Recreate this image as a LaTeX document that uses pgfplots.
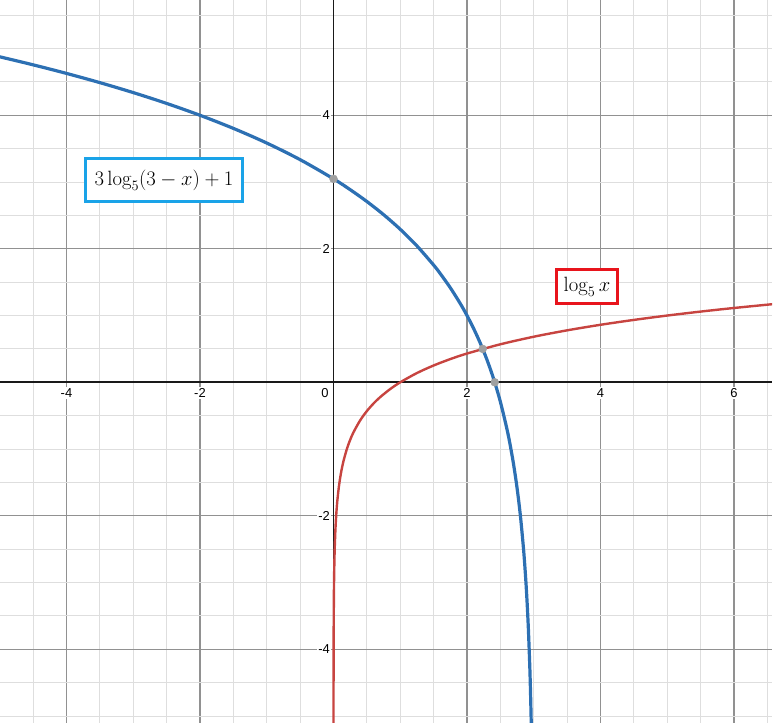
\documentclass[border=0pt]{standalone}
\usepackage{pgfplots}
\pgfplotsset{compat=1.18}
\usepackage{fontspec}
\newfontfamily\tickfont{Liberation Sans}
\definecolor{curveblue}{HTML}{2D70B3}
\definecolor{curvered}{HTML}{C74440}
\definecolor{boxblue}{HTML}{1AA3E8}
\definecolor{boxred}{HTML}{E8141C}
\definecolor{majgrid}{RGB}{145,145,145}
\definecolor{mingrid}{RGB}{222,222,222}
\definecolor{dotgrey}{RGB}{160,160,160}
\begin{document}
\begin{tikzpicture}
\useasboundingbox (0,0) rectangle (775bp,723bp);
\begin{axis}[
  at={(0,0)}, anchor=south west,
  width=772bp, height=723bp, scale only axis,
  xmin=-4.996, xmax=6.569, ymin=-5.104, ymax=5.727,
  axis lines=middle,
  axis line style={-, line width=1.8bp, color=black!90},
  xtick={-4,-2,2,4,6}, xticklabels={-4,-2,2,4,6},
  ytick={-4,-2,2,4}, yticklabels={-4,-2,2,4},
  minor xtick={-5,-4.5,...,6.5},
  minor ytick={-5,-4.5,...,5.5},
  grid=both,
  major grid style={line width=1.1bp, color=majgrid},
  minor grid style={line width=0.9bp, color=mingrid},
  major tick length=0pt, minor tick length=0pt,
  xticklabel style={font=\tickfont\fontsize{13}{15}\selectfont, fill=white, inner sep=1.5bp, anchor=center, yshift=-11bp},
  yticklabel style={font=\tickfont\fontsize{13}{15}\selectfont, fill=white, inner sep=1.5bp, anchor=east, xshift=-2bp},
  clip=true,
]
\addplot[smooth, line width=3.2bp, color=curveblue] coordinates {
(-5,4.8761) (-4.5,4.7558) (-4,4.6272) (-3.5,4.4891) (-3,4.3398) (-2.5,4.1777)
(-2,4) (-1.5,3.8036) (-1,3.5841) (-0.5,3.3352) (0,3.0478) (0.25,2.8856)
(0.5,2.7080) (0.75,2.5116) (1,2.2920) (1.25,2.0431) (1.5,1.7558) (1.6,1.6272)
(1.75,1.4159) (1.9,1.1777) (2,1) (2.1,0.8036) (2.2,0.5841) (2.3,0.3352)
(2.4,0.0478) (2.5,-0.2920) (2.6,-0.7080) (2.65,-0.9569) (2.7,-1.2442)
(2.75,-1.5841) (2.8,-2) (2.85,-2.5362) (2.88,-2.9522) (2.9,-3.2920)
(2.92,-3.7080) (2.94,-4.2442) (2.95,-4.5841) (2.96,-5) (2.965,-5.2489)
};
\addplot[smooth, line width=2.4bp, color=curvered] coordinates {
(0.00025,-5.1534) (0.0003,-5.0401) (0.0005,-4.7227) (0.001,-4.2920)
(0.002,-3.8614) (0.005,-3.2920) (0.007,-3.0830) (0.01,-2.8614)
(0.015,-2.6094) (0.02,-2.4307) (0.03,-2.1788) (0.04,-2) (0.05,-1.8614)
(0.06,-1.7481) (0.08,-1.5693) (0.1,-1.4307) (0.12,-1.3174) (0.15,-1.1787)
(0.2,-1) (0.25,-0.8614) (0.3,-0.7481) (0.4,-0.5693) (0.5,-0.4307)
(0.6,-0.3174) (0.7,-0.2216) (0.85,-0.1010) (1,0) (1.25,0.1386)
(1.5,0.2519) (1.75,0.3477) (2,0.4307) (2.5,0.5693) (3,0.6826) (3.5,0.7784)
(4,0.8614) (4.5,0.9345) (5,1) (5.5,1.0592) (6,1.1133) (6.6,1.1725)
};
\addplot[only marks, mark=*, mark size=4bp, color=dotgrey] coordinates {
(0,3.0478) (2.2353,0.4998) (2.4152,0)
};
\node[font=\tickfont\fontsize{13}{15}\selectfont, inner sep=1.5bp] at (axis cs:0,0) [xshift=-8.5bp, yshift=-11bp] {0};
\node[draw=boxblue, line width=3bp, fill=white, minimum width=157bp, minimum height=43bp, inner sep=0pt, font=\fontsize{20.74}{24}\selectfont] at (axis cs:-2.539,3.03) {$3\log_5\bigl(3-x\bigr)+1$};
\node[draw=boxred, line width=3bp, fill=white, minimum width=61bp, minimum height=34bp, inner sep=0pt, font=\fontsize{20.74}{24}\selectfont] at (axis cs:3.798,1.435) {$\log_5 x$};
\end{axis}
\end{tikzpicture}
\end{document}
